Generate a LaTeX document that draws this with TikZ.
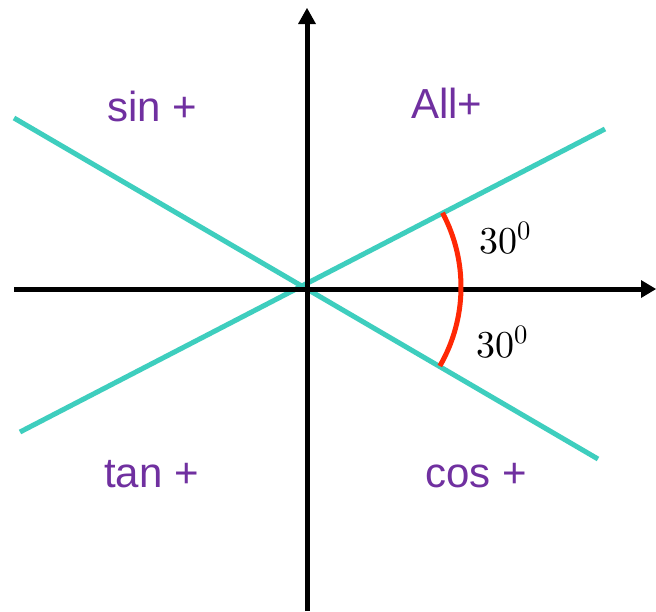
\documentclass[tikz,border=0pt]{standalone}
\usepackage{fontspec}
\setmainfont{Liberation Sans}
\usepackage{unicode-math}
\usetikzlibrary{arrows.meta}
\definecolor{teal1}{RGB}{62,206,190}
\definecolor{purp}{RGB}{112,48,160}
\definecolor{redarc}{RGB}{255,40,5}
\tikzset{
  axis/.style={line width=5pt},
  tipfill/.style={fill=black},
  ray/.style={line width=5pt,teal1},
  angarc/.style={line width=5pt,redarc},
  quad/.style={text=purp,font=\fontsize{42}{42}\selectfont,anchor=base west,inner sep=0pt},
  deg/.style={font=\fontsize{38}{38}\selectfont,anchor=base west,inner sep=0pt}
}
\begin{document}
\begin{tikzpicture}[x=1pt,y=-1pt]
\useasboundingbox[fill=white] (0,0) rectangle (656,611);
\coordinate (O) at (303,287);
\coordinate (xl) at (14,289);
\coordinate (xr) at (656,289);
\coordinate (xs) at (645,289);
\coordinate (yb) at (307,611);
\coordinate (yt) at (307,8);
\coordinate (ys) at (307,20);
\coordinate (a1) at (14,118);
\coordinate (a2) at (598,459);
\coordinate (b1) at (20,432);
\coordinate (b2) at (605,129);
\draw[ray] (a1) -- (a2);
\draw[ray] (b1) -- (b2);
\draw[axis] (xl) -- (xs);
\fill[tipfill] (xr) -- ([shift={(-15,-9)}]xr) -- ([shift={(-15,9)}]xr) -- cycle;
\draw[axis] (yb) -- (ys);
\fill[tipfill] (yt) -- ([shift={(-9,16)}]yt) -- ([shift={(9,16)}]yt) -- cycle;
\draw[angarc] (O) ++(-28:158) arc[start angle=-28,end angle=30,radius=158];
\node[quad] (sin) at (107,121) {sin +};
\node[quad] (all) at (411,118) {All+};
\node[quad] (tan) at (104,487) {tan +};
\node[quad] (cos) at (425,487) {cos +};
\node[deg] (d1) at (479,253) {$30^0$};
\node[deg] (d2) at (476,357) {$30^0$};
\end{tikzpicture}
\end{document}
